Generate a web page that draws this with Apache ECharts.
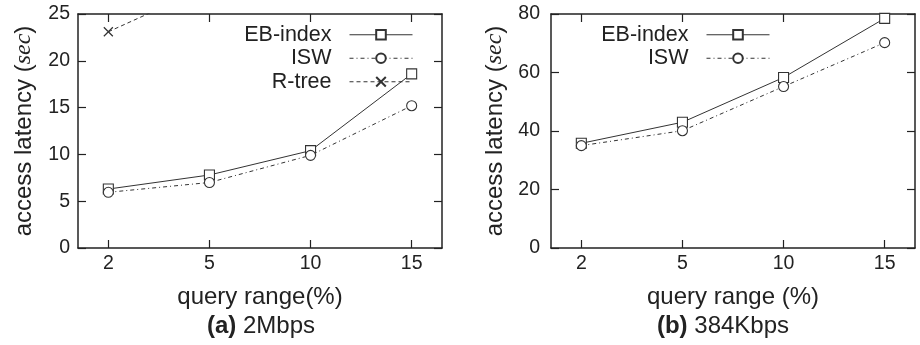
<!DOCTYPE html>
<html>
<head>
<meta charset="utf-8">
<script src="https://cdn.jsdelivr.net/npm/echarts@6/dist/echarts.min.js"></script>
<style>html,body{margin:0;padding:0;background:#fff}#c{width:920px;height:345px}</style>
</head>
<body>
<div id="c"></div>
<script>
const categories = ['2', '5', '10', '15'];
const xIndex = [0, 1, 2, 3];
const ebIndexA = [6.3, 7.8, 10.4, 18.6];
const iswA = [5.95, 7.0, 9.9, 15.2];
const rtreeA = [23.1, 28.0, 36.0, 46.0];
const ebIndexB = [35.8, 43.0, 58.3, 78.5];
const iswB = [35.0, 40.1, 55.2, 70.2];
const yMaxA = 25, yStepA = 5;
const yMaxB = 80, yStepB = 20;

const FONT = 'Liberation Sans, Arial, sans-serif';
const INK = '#222';
const LINE = '#333';

function pairs(vals) { return xIndex.map((x, i) => [x, vals[i]]); }

function xAxes(gi, name) {
  const base = {
    type: 'value', gridIndex: gi, min: -0.3, max: 3.3,
    splitLine: { show: false },
    axisLine: { show: true, onZero: false, lineStyle: { color: INK, width: 1.5 } },
    axisTick: { show: true, inside: true, length: 8, customValues: xIndex, lineStyle: { color: INK, width: 1.2 } },
  };
  return [
    Object.assign({}, base, {
      position: 'bottom',
      name: name, nameLocation: 'middle', nameGap: 37,
      nameTextStyle: { fontFamily: FONT, fontSize: 24, color: INK },
      axisLabel: { show: true, customValues: xIndex, formatter: v => categories[Math.round(v)], fontFamily: FONT, fontSize: 19.5, color: INK, margin: 6 }
    }),
    Object.assign({}, base, { position: 'top', axisLabel: { show: false } })
  ];
}

function yAxes(gi, max, step, labelMargin, nameGap) {
  const base = {
    type: 'value', gridIndex: gi, min: 0, max: max, interval: step,
    splitLine: { show: false },
    axisLine: { show: true, onZero: false, lineStyle: { color: INK, width: 1.5 } },
    axisTick: { show: true, inside: true, length: 8, lineStyle: { color: INK, width: 1.2 } },
  };
  return [
    Object.assign({}, base, {
      position: 'left',
      name: 'access latency ({i|sec})', nameLocation: 'middle', nameGap: nameGap,
      nameTextStyle: { fontFamily: FONT, fontSize: 24, color: INK,
        rich: { i: { fontFamily: 'Liberation Serif, DejaVu Serif, serif', fontStyle: 'italic', fontSize: 24, color: INK } } },
      axisLabel: { show: true, fontFamily: FONT, fontSize: 19.5, color: INK, margin: labelMargin }
    }),
    Object.assign({}, base, { position: 'right', axisLabel: { show: false } })
  ];
}

const ebStyle = { symbol: 'rect', symbolSize: 10, lineStyle: { color: LINE, width: 1, type: 'solid' }, itemStyle: { color: '#fff', borderColor: LINE, borderWidth: 1.1 } };
const iswStyle = { symbol: 'circle', symbolSize: 10, lineStyle: { color: LINE, width: 1, type: [4, 3, 1, 3] }, itemStyle: { color: '#fff', borderColor: LINE, borderWidth: 1.1 } };
const rtStyle = { symbol: 'path://M0,0L10,10M10,0L0,10', symbolSize: 9, lineStyle: { color: LINE, width: 1, type: [4, 3] }, itemStyle: { color: 'none', borderColor: LINE, borderWidth: 1.2 } };

function series(name, xi, yi, vals, st) {
  return Object.assign({ type: 'line', name: name, xAxisIndex: xi, yAxisIndex: yi, data: pairs(vals), clip: true, animation: false, showAllSymbol: true }, JSON.parse(JSON.stringify(st)));
}

const legendCommon = {
  orient: 'vertical', align: 'right', itemWidth: 63, itemHeight: 12, itemGap: 0, padding: 0,
  lineStyle: { width: 1 },
  textStyle: { fontFamily: FONT, fontSize: 21.5, lineHeight: 23.5, color: INK, padding: [0, 13, 0, 0] },
  inactiveColor: INK, selectedMode: false
};

const option = {
  backgroundColor: '#fff',
  animation: false,
  grid: [
    { left: 78, right: 478, top: 14, bottom: 97, containLabel: false },
    { left: 551, right: 5, top: 14, bottom: 97, containLabel: false }
  ],
  xAxis: [].concat(xAxes(0, 'query range(%)'), xAxes(1, 'query range (%)')),
  yAxis: [].concat(yAxes(0, yMaxA, yStepA, 8, 42), yAxes(1, yMaxB, yStepB, 11, 44)),
  legend: [
    Object.assign({}, legendCommon, { data: ['EB-index', 'ISW', 'R-tree'], right: 920 - 413, top: 23 }),
    Object.assign({}, legendCommon, { data: ['EB-index', 'ISW'], right: 920 - 770, top: 23 })
  ],
  title: [
    { text: '{b|(a)} 2Mbps', left: 261, top: 314, textAlign: 'center', padding: 0,
      textStyle: { fontFamily: FONT, fontSize: 24, fontWeight: 'normal', color: INK,
        rich: { b: { fontFamily: FONT, fontSize: 24, fontWeight: 'bold', color: INK } } } },
    { text: '{b|(b)} 384Kbps', left: 723, top: 314, textAlign: 'center', padding: 0,
      textStyle: { fontFamily: FONT, fontSize: 24, fontWeight: 'normal', color: INK,
        rich: { b: { fontFamily: FONT, fontSize: 24, fontWeight: 'bold', color: INK } } } }
  ],
  series: [
    series('EB-index', 0, 0, ebIndexA, ebStyle),
    series('ISW', 0, 0, iswA, iswStyle),
    series('R-tree', 0, 0, rtreeA, rtStyle),
    series('EB-index', 2, 2, ebIndexB, ebStyle),
    series('ISW', 2, 2, iswB, iswStyle)
  ]
};

const chart = echarts.init(document.getElementById('c'), null, { renderer: 'canvas' });
chart.setOption(option);
</script>
</body>
</html>
